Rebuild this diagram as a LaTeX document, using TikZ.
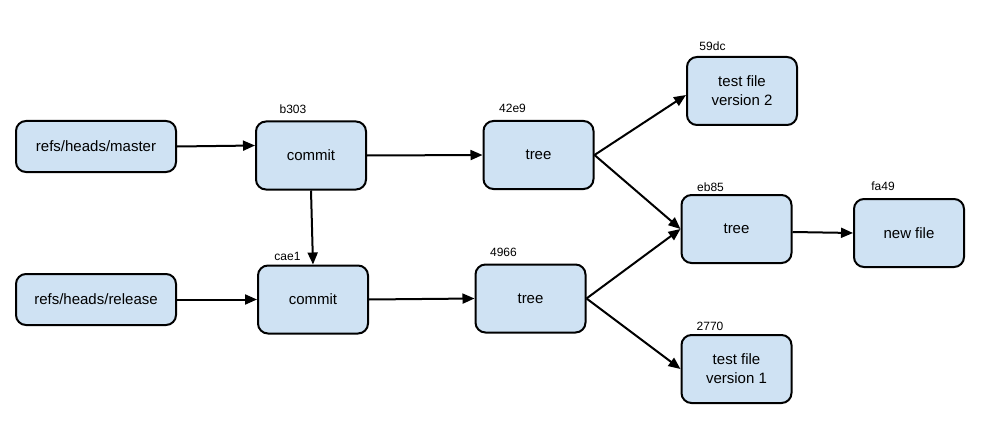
\documentclass[tikz,border=0pt]{standalone}
\usepackage{fontspec}
\setmainfont{Liberation Sans}
\usetikzlibrary{arrows.meta}
\definecolor{boxfill}{HTML}{CFE2F3}
\tikzset{
  obj/.style={draw=black, line width=2pt, fill=boxfill, rounded corners=10pt,
    minimum width=110pt, minimum height=68pt, align=center, inner sep=2pt,
    font=\fontsize{15}{19}\selectfont},
  refbox/.style={obj, minimum width=160pt, minimum height=51pt},
  hashlbl/.style={font=\fontsize{12}{14}\selectfont, inner sep=0pt},
  conn/.style={line width=2pt, -{Triangle[length=12pt,width=10pt]}}
}
\begin{document}
\begin{tikzpicture}[x=1pt,y=-1pt]
\useasboundingbox (0,0) rectangle (989,436);
% nodes
\node[refbox] (master) at (96,146.5) {refs/heads/master};
\node[refbox] (release) at (96,299.5) {refs/heads/release};
\node[obj] (c1) at (311,155.5) {commit};
\node[obj] (c2) at (313,299.5) {commit};
\node[obj] (t1) at (538.5,155) {tree};
\node[obj] (t2) at (530.5,298.5) {tree};
\node[obj] (f2) at (742,91) {test file\\version 2};
\node[obj] (t3) at (736.5,229) {tree};
\node[obj] (nf) at (909,233) {new file};
\node[obj] (f1) at (736.5,369) {test file\\version 1};
% labels
\node[hashlbl] (l1) at (293,109) {b303};
\node[hashlbl] (l2) at (512.5,108) {42e9};
\node[hashlbl] (l3) at (712.5,46) {59dc};
\node[hashlbl] (l4) at (710.5,187) {eb85};
\node[hashlbl] (l5) at (883,186) {fa49};
\node[hashlbl] (l6) at (287.5,256) {cae1};
\node[hashlbl] (l7) at (503.5,252) {4966};
\node[hashlbl] (l8) at (710,326) {2770};
% connectors
\draw[conn] (master.east) -- ([yshift=10pt]c1.west);
\draw[conn] (release.east) -- (c2.west);
\draw[conn] (c1.south) -- (c2.north);
\draw[conn] (c1.east) -- (t1.west);
\draw[conn] (c2.east) -- (t2.west);
\draw[conn] (t1.east) -- ([yshift=-4pt]f2.west);
\draw[conn] (t1.east) -- (t3.west);
\draw[conn] (t2.east) -- (t3.west);
\draw[conn] (t2.east) -- (f1.west);
\draw[conn] ([yshift=-3pt]t3.east) -- (nf.west);
\end{tikzpicture}
\end{document}
